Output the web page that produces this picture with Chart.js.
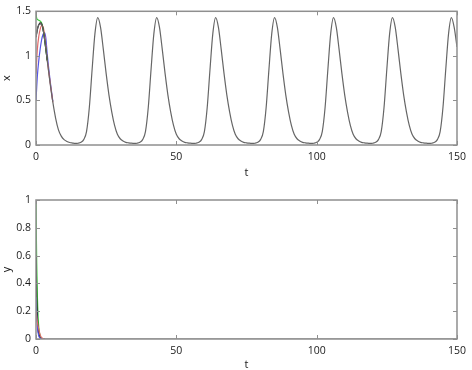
<!DOCTYPE html>
<html>
<head>
<meta charset="utf-8">
<script src="https://cdn.jsdelivr.net/npm/chart.js@4/dist/chart.umd.min.js"></script>
<style>
html,body{margin:0;padding:0;background:#fff;}
canvas{display:block;}
</style>
</head>
<body>
<canvas id="c1" width="472" height="185"></canvas>
<canvas id="c2" width="472" height="185"></canvas>
<script>
// ---------- data ----------
// Top panel: x(t), sampled at t = 0,1,...,150
const tMain = [];
for (let i = 0; i <= 150; i++) tMain.push(i);
const xMain = [
  1.21,1.35,1.36,1.20,0.95,0.70,0.48,0.30,0.17,0.10,0.06,0.04,0.028,0.022,0.018,
  0.02,0.03,0.06,0.15,0.42,0.85,1.25,1.43,1.32,1.07,0.80,0.56,0.37,0.22,0.12,0.07,0.045,0.03,0.024,0.02,0.018,
  0.02,0.03,0.06,0.15,0.42,0.85,1.25,1.43,1.32,1.07,0.80,0.56,0.37,0.22,0.12,0.07,0.045,0.03,0.024,0.02,0.018,
  0.02,0.03,0.06,0.15,0.42,0.85,1.25,1.43,1.32,1.07,0.80,0.56,0.37,0.22,0.12,0.07,0.045,0.03,0.024,0.02,0.018,
  0.02,0.03,0.06,0.15,0.42,0.85,1.25,1.43,1.32,1.07,0.80,0.56,0.37,0.22,0.12,0.07,0.045,0.03,0.024,0.02,0.018,
  0.02,0.03,0.06,0.15,0.42,0.85,1.25,1.43,1.32,1.07,0.80,0.56,0.37,0.22,0.12,0.07,0.045,0.03,0.024,0.02,0.018,
  0.02,0.03,0.06,0.15,0.42,0.85,1.25,1.43,1.32,1.07,0.80,0.56,0.37,0.22,0.12,0.07,0.045,0.03,0.024,0.02,0.018,
  0.02,0.03,0.06,0.15,0.42,0.85,1.25,1.43,1.32,1.1
];
const tGreenX = [0,0.2,0.5,1,1.5,2,2.5,3,4];
const xGreen  = [1.5,1.43,1.41,1.40,1.39,1.37,1.31,1.20,0.95];
const tBlackX = [0,0.5,1,1.5,2,2.5,3,4];
const xBlack  = [1.21,1.30,1.35,1.37,1.36,1.30,1.20,0.95];
const tRedX   = [0,0.5,1,1.5,2,2.5,3,3.5,4,5,6];
const xRed    = [0.8,1.08,1.22,1.30,1.34,1.33,1.25,1.11,0.96,0.71,0.48];
const tBlueX  = [0,0.5,1,1.5,2,2.5,3,3.5,4,5,6];
const xBlue   = [0.5,0.78,0.95,1.08,1.18,1.24,1.26,1.20,1.02,0.73,0.49];

// Bottom panel: y(t)
const tDecay  = [0,0.1,0.25,0.5,0.75,1,1.5,2,3];
const yGreen  = [1,0.78,0.55,0.3,0.16,0.08,0.02,0.005,0];
const yBlack  = [0.6,0.45,0.3,0.15,0.07,0.035,0.008,0.002,0];
const yBlue   = [0.3,0.24,0.17,0.09,0.045,0.022,0.006,0.001,0];
const tRedY   = [0,0.25,0.5,1,1.5,2,2.5,3];
const yRed    = [0.2,0.16,0.12,0.07,0.03,0.01,0.003,0];
const tGrayY  = [0,0.5,1,2,3,150];
const yGray   = [0.6,0.15,0.035,0.002,0,0];

const xTicksT = [0,50,100,150];
const yTicksTop = [0,0.5,1,1.5];
const yTicksBot = [0,0.2,0.4,0.6,0.8,1];

// ---------- styles ----------
const C = {green:'#3ccc3c', red:'#e06a6a', blue:'#5555e6', black:'#1e1e1e', gray:'#666666', frame:'#8f8f8f', text:'#1a1a1a'};
const FONT = {family:"'Open Sans', 'Liberation Sans', sans-serif", size:10.5};

function pts(T, V){ return T.map((t,i)=>({x:t, y:V[i]})); }
function ds(T, V, color, order){
  return {data: pts(T,V), borderColor: color, borderWidth: 1.2, pointRadius: 0,
          cubicInterpolationMode: 'monotone', fill: false, order: order};
}

const framePlugin = {
  id: 'frame',
  afterDraw(chart){
    const {ctx, chartArea:a, scales:{x, y}} = chart;
    ctx.save();
    ctx.strokeStyle = C.frame;
    ctx.lineWidth = 1;
    const L = 4;
    ctx.beginPath();
    x.ticks.forEach(t=>{
      const px = Math.round(x.getPixelForValue(t.value)) + 0.5;
      ctx.moveTo(px, a.bottom); ctx.lineTo(px, a.bottom - L);
      ctx.moveTo(px, a.top); ctx.lineTo(px, a.top + L);
    });
    y.ticks.forEach(t=>{
      const py = Math.round(y.getPixelForValue(t.value)) + 0.5;
      ctx.moveTo(a.left, py); ctx.lineTo(a.left + L, py);
      ctx.moveTo(a.right, py); ctx.lineTo(a.right - L, py);
    });
    ctx.stroke();
    ctx.lineWidth = 1.5;
    ctx.strokeRect(a.left, a.top, a.right - a.left, a.bottom - a.top);
    ctx.restore();
  }
};

function makeChart(id, datasets, yMax, yTicks, yTitle, pad, xH, tPad){
  return new Chart(document.getElementById(id), {
    type: 'line',
    data: {datasets},
    plugins: [framePlugin],
    options: {
      responsive: false, animation: false, devicePixelRatio: 1,
      layout: {padding: pad},
      plugins: {legend:{display:false}, tooltip:{enabled:false}},
      scales: {
        x: {
          type:'linear', min:0, max:150,
          afterBuildTicks: s => { s.ticks = xTicksT.map(v=>({value:v})); },
          ticks: {font:FONT, color:C.text, padding:6, maxRotation:0, callback: v => String(v)},
          grid: {display:false, drawTicks:false},
          border: {display:false},
          title: {display:true, text:'t', font:{family:FONT.family, size:11}, color:C.text, padding:{top:0,bottom:tPad}},
          afterFit: s => { s.height = xH; }
        },
        y: {
          type:'linear', min:0, max:yMax,
          afterBuildTicks: s => { s.ticks = yTicks.map(v=>({value:v})); },
          ticks: {font:FONT, color:C.text, padding:5, callback: v => String(+(+v).toFixed(2))},
          grid: {display:false, drawTicks:false},
          border: {display:false},
          title: {display:true, text:yTitle, font:{family:FONT.family, size:11}, color:C.text, padding:0},
          afterFit: s => { s.width = 36; }
        }
      }
    }
  });
}

makeChart('c1', [
  ds(tMain, xMain, C.gray, 0),
  ds(tBlackX, xBlack, C.black, 1),
  ds(tGreenX, xGreen, C.green, 2),
  ds(tRedX, xRed, C.red, 3),
  ds(tBlueX, xBlue, C.blue, 4)
], 1.5, yTicksTop, 'x', {left:0, right:11, top:6, bottom:0}, 40, 6);

makeChart('c2', [
  ds(tGrayY, yGray, C.gray, 5),
  ds(tDecay, yBlack, C.black, 2),
  ds(tDecay, yGreen, C.green, 3),
  ds(tDecay, yBlue, C.blue, 1),
  ds(tRedY, yRed, C.red, 0)
], 1, yTicksBot, 'y', {left:0, right:11, top:15, bottom:0}, 31, -1.5);
</script>
</body>
</html>
